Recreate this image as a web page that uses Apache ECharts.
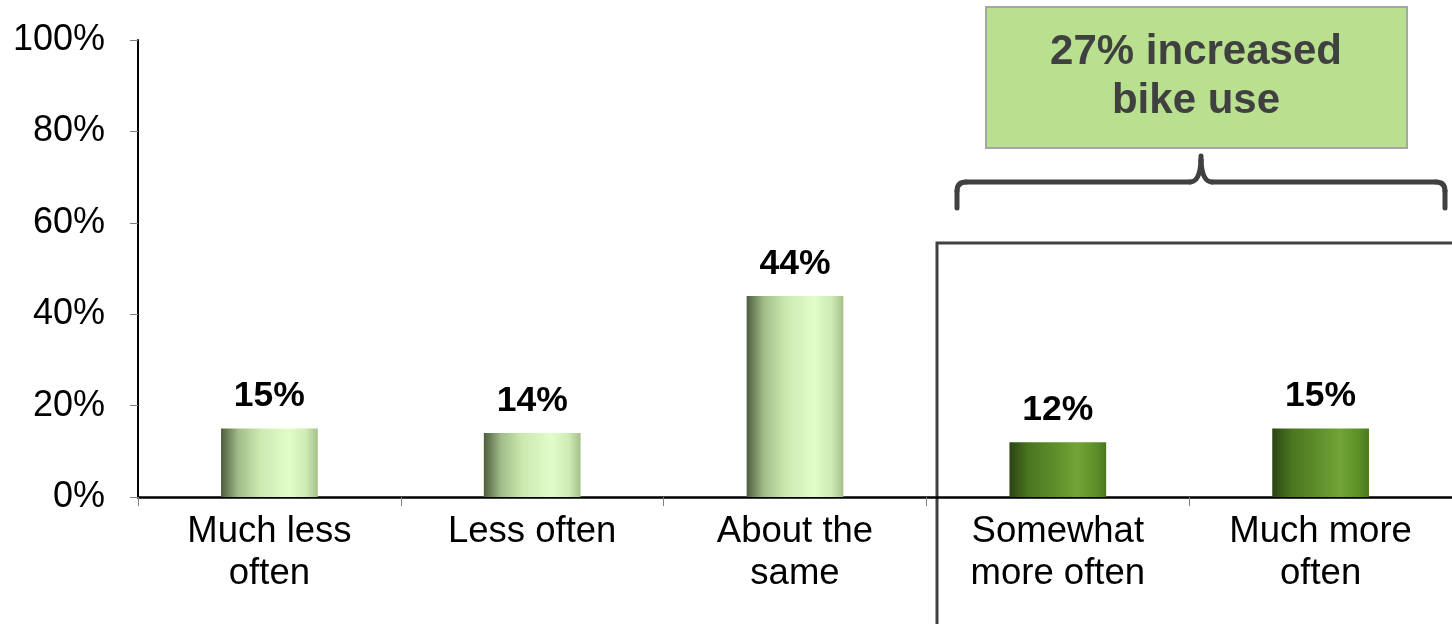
<!DOCTYPE html>
<html>
<head>
<meta charset="utf-8">
<script src="https://cdn.jsdelivr.net/npm/echarts@6/dist/echarts.min.js"></script>
<style>
html,body{margin:0;padding:0;background:#fff;}
#chart{width:1452px;height:624px;}
</style>
</head>
<body>
<div id="chart"></div>
<script>
var categories = ['Much less\noften', 'Less often', 'About the\nsame', 'Somewhat\nmore often', 'Much more\noften'];
var values = [15, 14, 44, 12, 15];
var increasedFlags = [false, false, false, true, true];
var yTicks = [0, 20, 40, 60, 80, 100];
var calloutText = '27% increased\nbike use';

var lightGrad = new echarts.graphic.LinearGradient(0, 0, 1, 0, [
  {offset: 0, color: '#4d5d3f'},
  {offset: 0.18, color: '#a2bd89'},
  {offset: 0.4, color: '#cbe9af'},
  {offset: 0.7, color: '#e2fdca'},
  {offset: 0.88, color: '#cdebb2'},
  {offset: 1, color: '#a3c189'}
]);
var darkGrad = new echarts.graphic.LinearGradient(0, 0, 1, 0, [
  {offset: 0, color: '#2b4412'},
  {offset: 0.2, color: '#4b7621'},
  {offset: 0.45, color: '#5c8c29'},
  {offset: 0.7, color: '#72a437'},
  {offset: 0.9, color: '#5c8e28'},
  {offset: 1, color: '#4a781f'}
]);

var chart = echarts.init(document.getElementById('chart'), null, {renderer: 'canvas'});
var FONT = '"Liberation Sans", Arial, sans-serif';
var braceStyle = {fill: null, stroke: '#404040', lineWidth: 5, lineCap: 'round'};
function ln(x1, y1, x2, y2) {
  return {type: 'line', shape: {x1: x1, y1: y1, x2: x2, y2: y2}, style: braceStyle};
}
function qc(x1, y1, cx, cy, x2, y2) {
  return {type: 'bezierCurve', shape: {x1: x1, y1: y1, cpx1: cx, cpy1: cy, x2: x2, y2: y2}, style: braceStyle};
}

var option = {
  animation: false,
  backgroundColor: '#ffffff',
  grid: {left: 138, right: 0, top: 40, bottom: 127, containLabel: false},
  xAxis: {
    type: 'category',
    data: categories,
    axisLine: {show: true, lineStyle: {color: '#000', width: 2.5}},
    axisTick: {show: true, alignWithLabel: false, length: 9, lineStyle: {color: '#808080', width: 1}},
    axisLabel: {
      interval: 0, margin: 14, color: '#000', fontSize: 36.5, lineHeight: 42, fontFamily: FONT
    },
    splitLine: {show: false}
  },
  yAxis: {
    type: 'value',
    min: yTicks[0],
    max: yTicks[yTicks.length - 1],
    interval: yTicks[1] - yTicks[0],
    axisLine: {show: true, lineStyle: {color: '#000', width: 2}},
    axisTick: {show: true, length: 8, lineStyle: {color: '#808080', width: 1}},
    axisLabel: {
      formatter: '{value}%', margin: 33, color: '#000', fontSize: 36, fontFamily: FONT
    },
    splitLine: {show: false}
  },
  series: [{
    type: 'bar',
    barWidth: '36.8%',
    data: values.map(function (v, i) {
      return {value: v, itemStyle: {color: increasedFlags[i] ? darkGrad : lightGrad}};
    }),
    label: {
      show: true, position: 'top', distance: 14,
      formatter: '{c}%', color: '#000', fontSize: 35.5, fontWeight: 'bold', fontFamily: FONT
    }
  }],
  graphic: [
    {
      type: 'rect',
      shape: {x: 986, y: 7, width: 421, height: 141},
      style: {fill: '#b9e08f', stroke: '#a6a6a6', lineWidth: 2}
    },
    {
      type: 'text',
      x: 1196, y: 77,
      style: {
        text: calloutText, fill: '#404040', font: 'bold 42px ' + FONT,
        align: 'center', verticalAlign: 'middle', lineHeight: 49
      }
    },
    ln(957, 208, 957, 191),
    qc(957, 191, 957, 182, 966, 182),
    ln(966, 182, 1190, 182),
    qc(1190, 182, 1200, 182, 1201, 160),
    qc(1201, 160, 1202, 182, 1212, 182),
    ln(1201, 160, 1201, 156),
    ln(1212, 182, 1436, 182),
    qc(1436, 182, 1445, 182, 1445, 191),
    ln(1445, 191, 1445, 208),
    {
      type: 'polyline',
      shape: {points: [[937, 624], [937, 243], [1452, 243]]},
      style: {fill: null, stroke: '#404040', lineWidth: 3}
    }
  ]
};
chart.setOption(option);
</script>
</body>
</html>
